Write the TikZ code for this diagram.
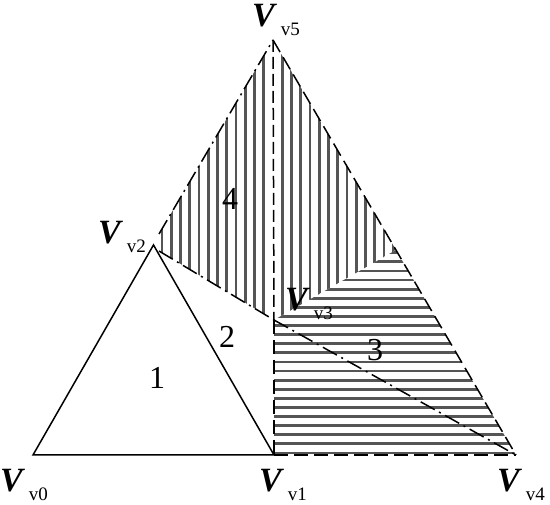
\documentclass[tikz,border=0pt]{standalone}
\usepackage{fontspec}
\setmainfont{Liberation Serif}
\definecolor{hatchgray}{RGB}{85,85,85}
\newcommand\Vsym{{\fontsize{34}{34}\selectfont\bfseries\itshape V}}
\newcommand\vsub[1]{\hspace{6pt}\raisebox{-9pt}{\fontsize{19}{19}\selectfont #1}}
\begin{document}
\begin{tikzpicture}[x=1pt,y=-1pt,
  edge/.style={line width=1.5pt, black},
  dashedge/.style={line width=1.5pt, black, dash pattern=on 14pt off 6pt},
  vdashedge/.style={line width=1.5pt, black, dash pattern=on 12pt off 5pt},
  dashdotedge/.style={line width=1.5pt, black, dash pattern=on 16pt off 5pt on 2pt off 5pt},
  hatch/.style={line width=2.8pt, color=hatchgray},
  vlabel/.style={anchor=base west, inner sep=0pt},
  numlabel/.style={font=\fontsize{32}{32}\selectfont, inner sep=0pt}]
\useasboundingbox (0,0) rectangle (550,505);
% vertices
\coordinate (v0) at (33,455);
\coordinate (v1) at (274,455);
\coordinate (v2) at (153.5,245);
\coordinate (v3) at (274,320);
\coordinate (v4) at (516,455);
\coordinate (v5) at (273,40);
\coordinate (p) at (396,250);
\coordinate (r4a) at (159,234);
\coordinate (r4b) at (159,251);
% vertical hatching, region 4
\begin{scope}
  \clip (r4a) -- (v5) -- (p) -- (v3) -- (r4b) -- cycle;
  \foreach \k in {1,...,14} {
    \draw[hatch] ({273-9.25*\k},30) -- ({273-9.25*\k},330);
    \draw[hatch] ({273+9.25*\k},30) -- ({273+9.25*\k},330);
  }
\end{scope}
% horizontal hatching, region 3
\begin{scope}
  \clip (v3) -- (p) -- (v4) -- (v1) -- cycle;
  \foreach \k in {0,...,23} {
    \draw[hatch] (270,{453-9.1*\k}) -- (520,{453-9.1*\k});
  }
\end{scope}
% edges
\draw[edge] (v0) -- (v1) -- (v2) -- cycle;
\draw[dashdotedge] (r4a) -- (v5);
\draw[dashdotedge] (r4b) -- (v3);
\draw[dashdotedge] (v3) -- (v4);
\draw[dashedge] (v5) -- (v4);
\draw[dashedge] (v1) -- (v4);
\draw[dashedge] (v3) -- (v1);
\draw[vdashedge] (v5) -- (v3);
% labels
\node[vlabel] (lv0) at (0,492) {\Vsym\vsub{v0}};
\node[vlabel] (lv1) at (259,492) {\Vsym\vsub{v1}};
\node[vlabel] (lv4) at (497,492) {\Vsym\vsub{v4}};
\node[vlabel] (lv2) at (98,244) {\Vsym\vsub{v2}};
\node[vlabel] (lv5) at (252,27) {\Vsym\vsub{v5}};
\node[vlabel] (lv3) at (285,311) {\Vsym\vsub{v3}};
\node[numlabel] (n1) at (157,378) {1};
\node[numlabel] (n2) at (227,337) {2};
\node[numlabel] (n3) at (375,350) {3};
\node[numlabel] (n4) at (230,199) {4};
\end{tikzpicture}
\end{document}
